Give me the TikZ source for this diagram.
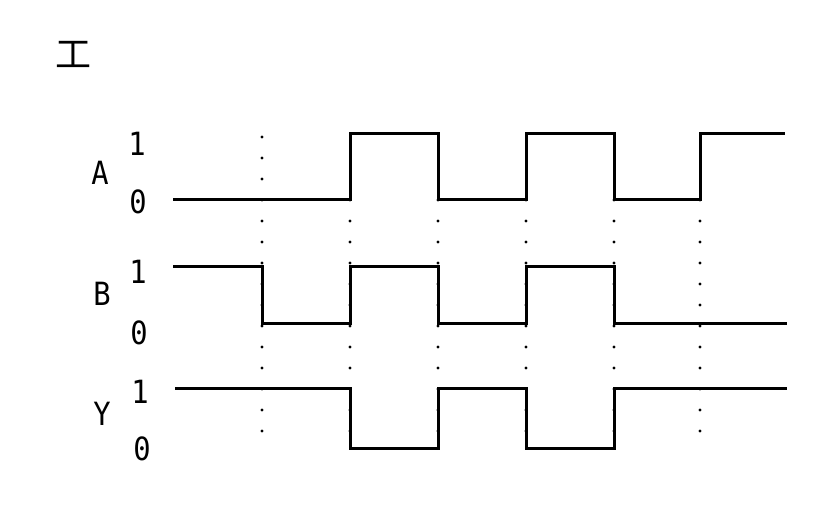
\documentclass[tikz,border=0pt]{standalone}
\usepackage{fontspec}
\setmonofont{DejaVu Sans Mono}
\newfontfamily\cjk{Noto Sans CJK SC}
\usetikzlibrary{positioning}

\begin{document}
\begin{tikzpicture}[x=0.5pt,y=-0.5pt,
  wave/.style={line width=1.5pt,line join=miter},
  guide/.style={line width=1.7pt,line cap=round,dash pattern=on 0pt off 10.5pt},
  lbl/.style={font=\ttfamily\fontsize{16}{16}\selectfont,inner sep=0pt,xscale=0.9}]
\useasboundingbox (0,0) rectangle (825,528);
\node[font=\cjk\fontsize{18}{18}\selectfont,inner sep=0pt] (title) at (73,54) {工};
% signal names and levels
\node[lbl] (la) at (100,173) {A};
\node[lbl] (a1) at (137,144) {1};
\node[lbl] (a0) at (138,202) {0};
\node[lbl] (lb) at (102,294) {B};
\node[lbl] (b1) at (138,272) {1};
\node[lbl] (b0) at (139,333) {0};
\node[lbl] (ly) at (102,414) {Y};
\node[lbl] (y1) at (140,392) {1};
\node[lbl] (y0) at (142,449) {0};
% time marks
\draw[guide] (262,137) -- (262,449);
\foreach \t in {350,438,526,614,700}
  \draw[guide] (\t,200) -- (\t,449);
% waveforms
\draw[wave] (173,200) -- (350,200) -- (350,134) -- (438,134) -- (438,200)
  -- (526,200) -- (526,134) -- (614,134) -- (614,200) -- (700,200)
  -- (700,134) -- (785,134);
\draw[wave] (173,267) -- (262,267) -- (262,324) -- (350,324) -- (350,267)
  -- (438,267) -- (438,324) -- (526,324) -- (526,267) -- (614,267)
  -- (614,324) -- (787,324);
\draw[wave] (175,389) -- (350,389) -- (350,449) -- (438,449) -- (438,389)
  -- (526,389) -- (526,449) -- (614,449) -- (614,389) -- (787,389);
\end{tikzpicture}
\end{document}
